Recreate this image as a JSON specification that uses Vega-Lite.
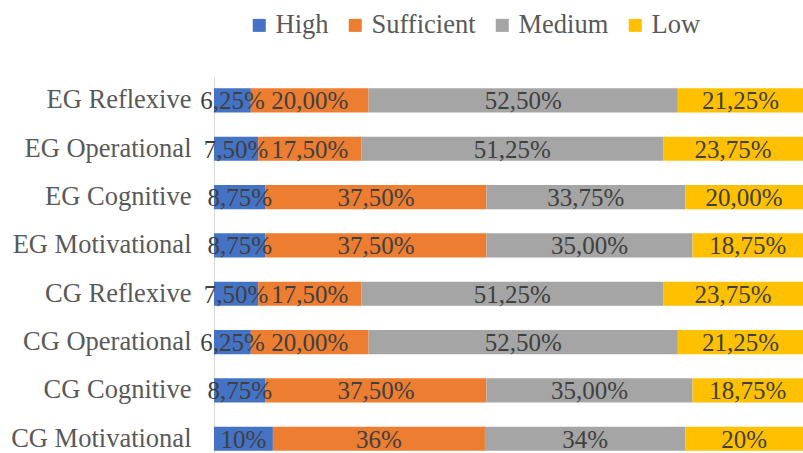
{
  "$schema": "https://vega.github.io/schema/vega-lite/v6.json",
  "autosize": "none",
  "width": 589,
  "height": 376,
  "padding": {"left": 214, "top": 77, "right": 0, "bottom": 0},
  "background": "white",
  "config": {
    "view": {"stroke": null},
    "font": "Liberation Serif"
  },
  "data": {
    "values": [
      {"category": "EG Reflexive", "level": "High", "order": 1, "value": 6.25, "label": "6,25%"},
      {"category": "EG Reflexive", "level": "Sufficient", "order": 2, "value": 20, "label": "20,00%"},
      {"category": "EG Reflexive", "level": "Medium", "order": 3, "value": 52.5, "label": "52,50%"},
      {"category": "EG Reflexive", "level": "Low", "order": 4, "value": 21.25, "label": "21,25%"},
      {"category": "EG Operational", "level": "High", "order": 1, "value": 7.5, "label": "7,50%"},
      {"category": "EG Operational", "level": "Sufficient", "order": 2, "value": 17.5, "label": "17,50%"},
      {"category": "EG Operational", "level": "Medium", "order": 3, "value": 51.25, "label": "51,25%"},
      {"category": "EG Operational", "level": "Low", "order": 4, "value": 23.75, "label": "23,75%"},
      {"category": "EG Cognitive", "level": "High", "order": 1, "value": 8.75, "label": "8,75%"},
      {"category": "EG Cognitive", "level": "Sufficient", "order": 2, "value": 37.5, "label": "37,50%"},
      {"category": "EG Cognitive", "level": "Medium", "order": 3, "value": 33.75, "label": "33,75%"},
      {"category": "EG Cognitive", "level": "Low", "order": 4, "value": 20, "label": "20,00%"},
      {"category": "EG Motivational", "level": "High", "order": 1, "value": 8.75, "label": "8,75%"},
      {"category": "EG Motivational", "level": "Sufficient", "order": 2, "value": 37.5, "label": "37,50%"},
      {"category": "EG Motivational", "level": "Medium", "order": 3, "value": 35, "label": "35,00%"},
      {"category": "EG Motivational", "level": "Low", "order": 4, "value": 18.75, "label": "18,75%"},
      {"category": "CG Reflexive", "level": "High", "order": 1, "value": 7.5, "label": "7,50%"},
      {"category": "CG Reflexive", "level": "Sufficient", "order": 2, "value": 17.5, "label": "17,50%"},
      {"category": "CG Reflexive", "level": "Medium", "order": 3, "value": 51.25, "label": "51,25%"},
      {"category": "CG Reflexive", "level": "Low", "order": 4, "value": 23.75, "label": "23,75%"},
      {"category": "CG Operational", "level": "High", "order": 1, "value": 6.25, "label": "6,25%"},
      {"category": "CG Operational", "level": "Sufficient", "order": 2, "value": 20, "label": "20,00%"},
      {"category": "CG Operational", "level": "Medium", "order": 3, "value": 52.5, "label": "52,50%"},
      {"category": "CG Operational", "level": "Low", "order": 4, "value": 21.25, "label": "21,25%"},
      {"category": "CG Cognitive", "level": "High", "order": 1, "value": 8.75, "label": "8,75%"},
      {"category": "CG Cognitive", "level": "Sufficient", "order": 2, "value": 37.5, "label": "37,50%"},
      {"category": "CG Cognitive", "level": "Medium", "order": 3, "value": 35, "label": "35,00%"},
      {"category": "CG Cognitive", "level": "Low", "order": 4, "value": 18.75, "label": "18,75%"},
      {"category": "CG Motivational", "level": "High", "order": 1, "value": 10, "label": "10%"},
      {"category": "CG Motivational", "level": "Sufficient", "order": 2, "value": 36, "label": "36%"},
      {"category": "CG Motivational", "level": "Medium", "order": 3, "value": 34, "label": "34%"},
      {"category": "CG Motivational", "level": "Low", "order": 4, "value": 20, "label": "20%"}
    ]
  },
  "encoding": {
    "y": {
      "field": "category",
      "type": "nominal",
      "sort": null,
      "title": null,
      "scale": {"paddingInner": 0.5, "paddingOuter": 0.139, "align": 0.84},
      "axis": {
        "ticks": false,
        "domainColor": "#D9D9D9",
        "domainWidth": 1,
        "labelFont": "Liberation Serif",
        "labelFontSize": 26.5,
        "labelColor": "#595959",
        "labelPadding": 23,
        "labelLimit": 300
      }
    },
    "x": {
      "field": "value",
      "type": "quantitative",
      "stack": "zero",
      "scale": {"domain": [0, 100], "nice": false, "zero": true},
      "axis": null
    },
    "order": {"field": "order", "type": "quantitative"}
  },
  "layer": [
    {
      "mark": {"type": "bar"},
      "encoding": {
        "color": {
          "field": "level",
          "type": "nominal",
          "title": null,
          "sort": ["High", "Sufficient", "Medium", "Low"],
          "scale": {
            "domain": ["High", "Sufficient", "Medium", "Low"],
            "range": ["#4472C4", "#ED7D31", "#A5A5A5", "#FFC000"]
          },
          "legend": {
            "orient": "none",
            "direction": "horizontal",
            "legendX": 32,
            "legendY": -65,
            "padding": 0,
            "symbolType": "square",
            "symbolSize": 169,
            "symbolStrokeWidth": 0,
            "symbolOpacity": 1,
            "labelFont": "Liberation Serif",
            "labelFontSize": 26.5,
            "labelColor": "#595959",
            "labelOffset": 3,
            "columnPadding": 13,
            "labelLimit": 300
          }
        }
      }
    },
    {
      "mark": {
        "type": "text",
        "font": "Liberation Serif",
        "fontSize": 25,
        "color": "#404040",
        "baseline": "middle",
        "align": "center",
        "dy": 1
      },
      "encoding": {
        "x": {
          "field": "value",
          "type": "quantitative",
          "stack": "zero",
          "bandPosition": 0.5,
          "scale": {"domain": [0, 100], "nice": false, "zero": true},
          "axis": null
        },
        "detail": {"field": "level", "type": "nominal"},
        "text": {"field": "label", "type": "nominal"}
      }
    }
  ]
}
